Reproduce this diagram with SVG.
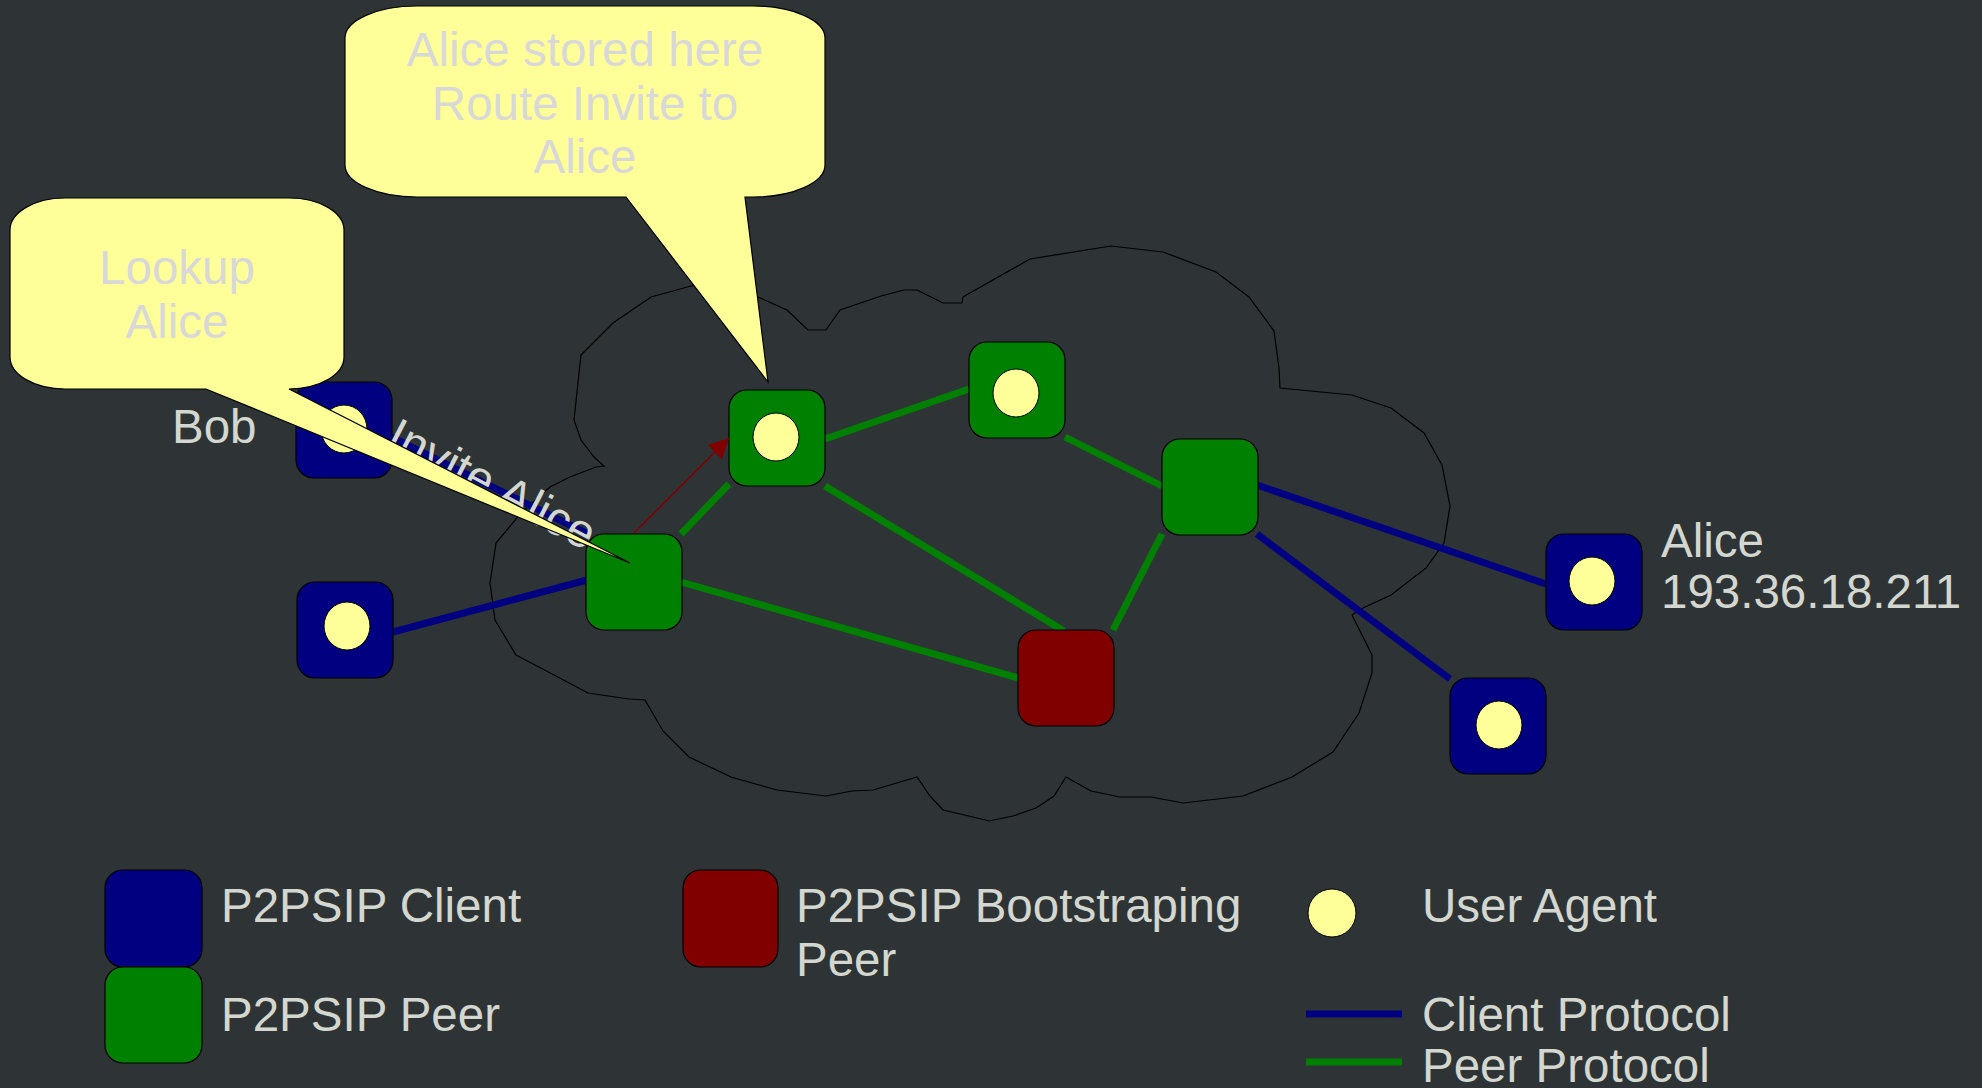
<svg xmlns="http://www.w3.org/2000/svg" width="1982" height="1088" viewBox="0 0 1982 1088">
<defs>
<style>
.bg{fill:#2e3436}
.cloud{fill:#2e3436;stroke:#000;stroke-width:1.2;stroke-linejoin:miter}
.client{fill:#000080;stroke:#000;stroke-width:1.2}
.peer{fill:#008000;stroke:#000;stroke-width:1.2}
.boot{fill:#800000;stroke:#000;stroke-width:1.2}
.ua{fill:#ffff99;stroke:#000;stroke-width:1}
.cp{stroke:#000080;stroke-width:7;fill:none}
.pp{stroke:#008000;stroke-width:7;fill:none}
.callout{fill:#ffff99;stroke:#000;stroke-width:1.2}
.t{font-family:"Liberation Sans",Arial,sans-serif;font-size:47.5px;fill:#d3d7cf}
.tc{font-family:"Liberation Sans",Arial,sans-serif;font-size:47.5px;fill:#d8d8d8;text-anchor:middle}
</style>
<marker id="ah" viewBox="0 0 10 10" refX="10" refY="5" markerWidth="30" markerHeight="20" markerUnits="userSpaceOnUse" orient="auto">
<path d="M0,0 L10,5 L0,10 Z" fill="#800000"/>
</marker>
</defs>
<rect class="bg" x="0" y="0" width="1982" height="1088"/>

<g id="cloud">
<polygon class="cloud" points="581,355 613,323 651,297 691,286 725,284 758,297 787,310 808,330 826,330 840,310 881,296 904,290 917,290 943,303 962,303 963,297 1030,259 1111,246 1163,252 1216,272 1249,297 1274,331 1279,368 1280,388 1352,395 1391,408 1424,433 1442,465 1450,506 1444,543 1426,568 1391,595 1363,608 1352,615 1372,655 1372,673 1359,713 1333,752 1292,777 1243,796 1183,803 1151,797 1120,797 1091,791 1066,777 1054,796 1036,808 1013,816 989,821 973,817 943,810 930,796 917,777 890,785 873,790 852,791 826,796 777,790 731,777 689,757 663,731 645,700 629,699 588,693 554,675 516,655 495,620 490,583 496,543 521,513 550,487 570,477 596,467 604,466 594,457 581,440 574,420"/>
</g>

<g id="connectors">
<line class="cp" x1="391" y1="437" x2="588" y2="534"/>
<line class="cp" x1="393" y1="632" x2="587" y2="580"/>
<line class="cp" x1="1257" y1="485" x2="1546" y2="584"/>
<line class="cp" x1="1257" y1="534" x2="1450" y2="679"/>
<line class="pp" x1="681" y1="534" x2="729" y2="484"/>
<line class="pp" x1="825" y1="439" x2="969" y2="389"/>
<line class="pp" x1="1065" y1="437" x2="1162" y2="486"/>
<line class="pp" x1="825" y1="486" x2="1064" y2="631"/>
<line class="pp" x1="681" y1="582" x2="1018" y2="678"/>
<line class="pp" x1="1113" y1="630" x2="1162" y2="534"/>
</g>

<g id="bob">
<rect class="client" x="296" y="382" width="96" height="96" rx="18" ry="18"/>
<ellipse class="ua" cx="344" cy="429" rx="23" ry="24"/>
</g>
<g id="client2">
<rect class="client" x="297" y="582" width="96" height="96" rx="18" ry="18"/>
<ellipse class="ua" cx="347" cy="626" rx="23" ry="24"/>
</g>
<g id="peerL">
<rect class="peer" x="586" y="534" width="96" height="96" rx="18" ry="18"/>
</g>
<g id="peerUA1">
<rect class="peer" x="729" y="390" width="96" height="96" rx="18" ry="18"/>
<ellipse class="ua" cx="776" cy="437" rx="23" ry="24"/>
</g>
<g id="peerUA2">
<rect class="peer" x="969" y="342" width="96" height="96" rx="18" ry="18"/>
<ellipse class="ua" cx="1016" cy="393" rx="23" ry="24"/>
</g>
<g id="peerR">
<rect class="peer" x="1162" y="439" width="96" height="96" rx="18" ry="18"/>
</g>
<g id="boot">
<rect class="boot" x="1018" y="630" width="96" height="96" rx="18" ry="18"/>
</g>
<g id="alice">
<rect class="client" x="1546" y="534" width="96" height="96" rx="18" ry="18"/>
<ellipse class="ua" cx="1592" cy="581" rx="23" ry="24"/>
</g>
<g id="client3">
<rect class="client" x="1450" y="678" width="96" height="96" rx="18" ry="18"/>
<ellipse class="ua" cx="1499" cy="725" rx="23" ry="24"/>
</g>

<g id="route-arrow">
<line x1="634" y1="533" x2="729" y2="438" stroke="#800000" stroke-width="1.5" marker-end="url(#ah)"/>
</g>

<g id="labels">
<text class="t" x="172" y="443">Bob</text>
<text class="t" x="1661" y="557">Alice</text>
<text class="t" x="1661" y="608">193.36.18.211</text>
<text class="t" transform="translate(384,446) rotate(27.5)" x="0" y="0">Invite Alice</text>
</g>

<g id="callout-lookup">
<path class="callout" d="M65,198 H289 A55,32 0 0 1 344,230 V357 A55,32 0 0 1 289,389 L630,563 L206,389 H65 A55,32 0 0 1 10,357 V230 A55,32 0 0 1 65,198 Z"/>
<text class="tc" x="177" y="284">Lookup</text>
<text class="tc" x="177" y="338">Alice</text>
</g>

<g id="callout-stored">
<path class="callout" d="M417,6 H753 A72,32 0 0 1 825,38 V165 A72,32 0 0 1 753,197 H745 L768,382 L626,197 H417 A72,32 0 0 1 345,165 V38 A72,32 0 0 1 417,6 Z"/>
<text class="tc" x="585" y="66">Alice stored here</text>
<text class="tc" x="585" y="120">Route Invite to</text>
<text class="tc" x="585" y="173">Alice</text>
</g>

<g id="legend">
<rect class="client" x="105" y="870" width="97" height="97" rx="18" ry="18"/>
<rect class="peer" x="105" y="967" width="97" height="96" rx="18" ry="18"/>
<rect class="boot" x="683" y="870" width="95" height="97" rx="18" ry="18"/>
<ellipse class="ua" cx="1332" cy="913" rx="24" ry="24"/>
<line class="cp" x1="1306" y1="1014" x2="1402" y2="1014"/>
<line class="pp" x1="1306" y1="1062" x2="1402" y2="1062"/>
<text class="t" x="221" y="922">P2PSIP Client</text>
<text class="t" x="221" y="1031">P2PSIP Peer</text>
<text class="t" x="796" y="922">P2PSIP Bootstraping</text>
<text class="t" x="796" y="976">Peer</text>
<text class="t" x="1422" y="922">User Agent</text>
<text class="t" x="1422" y="1031">Client Protocol</text>
<text class="t" x="1422" y="1082">Peer Protocol</text>
</g>
</svg>
